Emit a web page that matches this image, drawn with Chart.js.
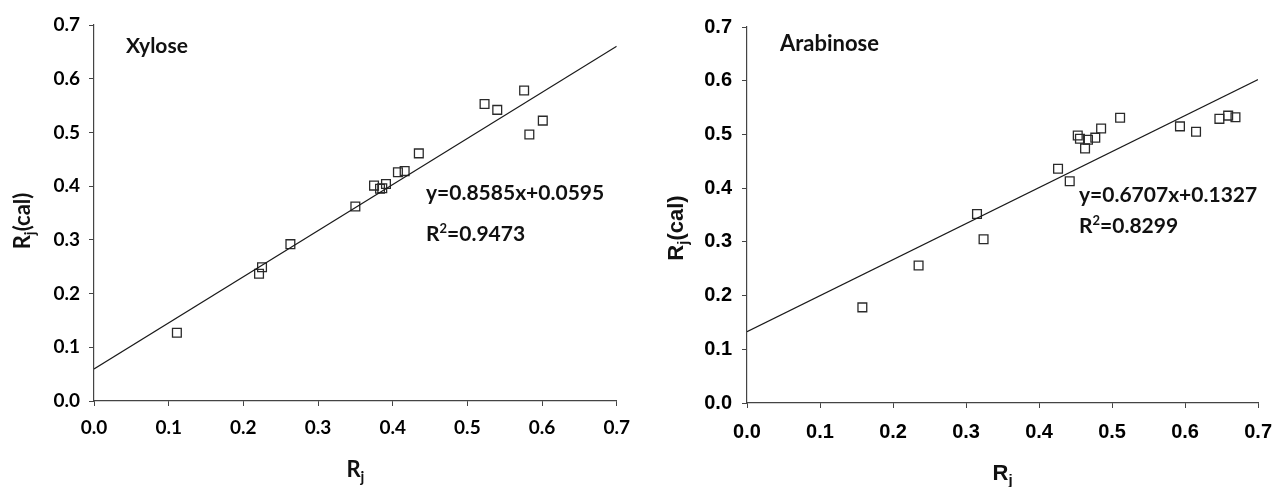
<!DOCTYPE html>
<html>
<head>
<meta charset="utf-8">
<script src="https://cdn.jsdelivr.net/npm/chart.js@4.4.0/dist/chart.umd.min.js"></script>
<style>
  body { margin: 0; background: #fff; }
  #left { position: absolute; left: 0; top: 0; width: 640px; height: 487px; }
  #right { position: absolute; left: 640px; top: 0; width: 644px; height: 487px; }
</style>
</head>
<body>
<div id="left"><canvas id="xyloseChart" width="640" height="487"></canvas></div>
<div id="right"><canvas id="arabinoseChart" width="644" height="487"></canvas></div>
<script>
// Xylose: measured Rj vs calculated Rj
const xyloseRj = [0.111, 0.221, 0.225, 0.263, 0.350, 0.375, 0.383, 0.386, 0.391, 0.407, 0.416, 0.435, 0.523, 0.540, 0.576, 0.583, 0.601];
const xyloseRjCal = [0.127, 0.237, 0.249, 0.292, 0.362, 0.401, 0.395, 0.396, 0.404, 0.426, 0.428, 0.461, 0.553, 0.542, 0.578, 0.496, 0.522];
const xyloseTrendX = [0.0, 0.7];
const xyloseTrendY = [0.0595, 0.6605];

// Arabinose
const arabinoseRj = [0.158, 0.235, 0.315, 0.324, 0.426, 0.442, 0.453, 0.456, 0.463, 0.467, 0.477, 0.485, 0.511, 0.593, 0.615, 0.647, 0.659, 0.669];
const arabinoseRjCal = [0.178, 0.256, 0.352, 0.305, 0.436, 0.413, 0.498, 0.492, 0.474, 0.490, 0.494, 0.511, 0.531, 0.515, 0.505, 0.529, 0.535, 0.532];
const arabinoseTrendX = [0.0, 0.7];
const arabinoseTrendY = [0.1327, 0.6022];

const axisTicks = [0.0, 0.1, 0.2, 0.3, 0.4, 0.5, 0.6, 0.7];

const toPoints = (xs, ys) => xs.map((v, i) => ({ x: v, y: ys[i] }));

// draws a run of text pieces, each with its own font and vertical shift
function drawRuns(ctx, runs, x, y, align) {
  let total = 0;
  runs.forEach((r) => {
    ctx.font = r.font;
    total += ctx.measureText(r.text).width;
  });
  let cx = align === "center" ? x - total / 2 : x;
  runs.forEach((r) => {
    ctx.font = r.font;
    ctx.fillText(r.text, cx, y + (r.dy || 0));
    cx += ctx.measureText(r.text).width;
  });
}

const chartText = {
  id: "chartText",
  afterDraw(chart, args, o) {
    const { ctx, chartArea } = chart;
    ctx.save();
    ctx.fillStyle = "#111";
    ctx.textAlign = "left";
    ctx.textBaseline = "alphabetic";

    ctx.font = o.titleFont;
    ctx.fillText(o.title, o.titlePos[0], o.titlePos[1]);
    ctx.font = o.labelFont;
    ctx.fillText(o.equation, o.eqPos[0], o.eqPos[1]);
    drawRuns(ctx, [
      { text: "R", font: o.labelFont },
      { text: "2", font: o.supFont, dy: -8 },
      { text: "=" + o.r2, font: o.labelFont },
    ], o.r2Pos[0], o.r2Pos[1], "left");

    // x axis title
    const midX = (chartArea.left + chartArea.right) / 2;
    drawRuns(ctx, [
      { text: "R", font: o.axisFont },
      { text: "j", font: o.subFont, dy: 5 },
    ], midX, o.xTitleY, "center");

    // y axis title, rotated
    ctx.translate(o.yTitlePos[0], o.yTitlePos[1]);
    ctx.rotate(-Math.PI / 2);
    drawRuns(ctx, [
      { text: "R", font: o.axisFont },
      { text: "j", font: o.subFont, dy: 5 },
      { text: "(cal)", font: o.axisFont },
    ], 0, 0, "center");
    ctx.restore();
  },
};

function makeChart(id, xs, ys, tx, ty, cfg) {
  const scaleCommon = (tickFont, pad) => ({
    type: "linear",
    min: 0,
    max: 0.7,
    afterBuildTicks: (scale) => {
      scale.ticks = axisTicks.map((v) => ({ value: v }));
    },
    ticks: {
      color: "#000",
      font: tickFont,
      padding: pad,
      callback: (v) => Number(v).toFixed(1),
    },
    grid: { drawOnChartArea: false, drawTicks: true, tickLength: 5, color: "#444" },
    border: { display: true, color: "#444", width: 1.2 },
  });

  return new Chart(document.getElementById(id), {
    data: {
      datasets: [
        {
          type: "line",
          data: toPoints(tx, ty),
          borderColor: "#1a1a1a",
          borderWidth: 1.2,
          pointRadius: 0,
          fill: false,
        },
        {
          type: "scatter",
          data: toPoints(xs, ys),
          pointStyle: "rect",
          pointRadius: 6.2,
          pointBorderWidth: 1.3,
          pointBorderColor: "#2a2a2a",
          pointBackgroundColor: "rgba(0,0,0,0)",
        },
      ],
    },
    options: {
      responsive: false,
      animation: false,
      layout: { padding: cfg.padding },
      plugins: {
        legend: { display: false },
        tooltip: { enabled: false },
        chartText: cfg.text,
      },
      scales: {
        x: Object.assign(scaleCommon(cfg.tickFont, cfg.xPad), {
          afterFit: (s) => { s.height = cfg.xHeight; },
        }),
        y: Object.assign(scaleCommon(cfg.tickFont, cfg.yPad), {
          afterFit: (s) => { s.width = cfg.yWidth; },
        }),
      },
    },
    plugins: [chartText],
  });
}

const latoFont = "Lato, 'Open Sans', sans-serif";
const arialLike = "'Liberation Sans', Arial, sans-serif";

makeChart("xyloseChart", xyloseRj, xyloseRjCal, xyloseTrendX, xyloseTrendY, {
  padding: { left: 0, top: 25, right: 23, bottom: 0 },
  yWidth: 94,
  xHeight: 86,
  yPad: 9,
  xPad: 10,
  tickFont: { family: latoFont, size: 19, weight: "bold" },
  text: {
    title: "Xylose",
    titlePos: [126, 53],
    titleFont: "bold 21px " + latoFont,
    equation: "y=0.8585x+0.0595",
    eqPos: [426, 200],
    r2: "0.9473",
    r2Pos: [426, 241],
    labelFont: "bold 21px " + latoFont,
    supFont: "bold 13px " + latoFont,
    axisFont: "bold 22px " + latoFont,
    subFont: "bold 15px " + latoFont,
    xTitleY: 477,
    yTitlePos: [30, 221],
  },
});

makeChart("arabinoseChart", arabinoseRj, arabinoseRjCal, arabinoseTrendX, arabinoseTrendY, {
  padding: { left: 0, top: 27, right: 15, bottom: 0 },
  yWidth: 107,
  xHeight: 84,
  yPad: 10,
  xPad: 12,
  tickFont: { family: arialLike, size: 20, weight: "bold" },
  text: {
    title: "Arabinose",
    titlePos: [140, 51],
    titleFont: "bold 22px " + latoFont,
    equation: "y=0.6707x+0.1327",
    eqPos: [439, 202],
    r2: "0.8299",
    r2Pos: [439, 233],
    labelFont: "bold 21px " + latoFont,
    supFont: "bold 13px " + latoFont,
    axisFont: "bold 22px " + arialLike,
    subFont: "bold 15px " + arialLike,
    xTitleY: 480,
    yTitlePos: [43, 228],
  },
});
</script>
</body>
</html>
